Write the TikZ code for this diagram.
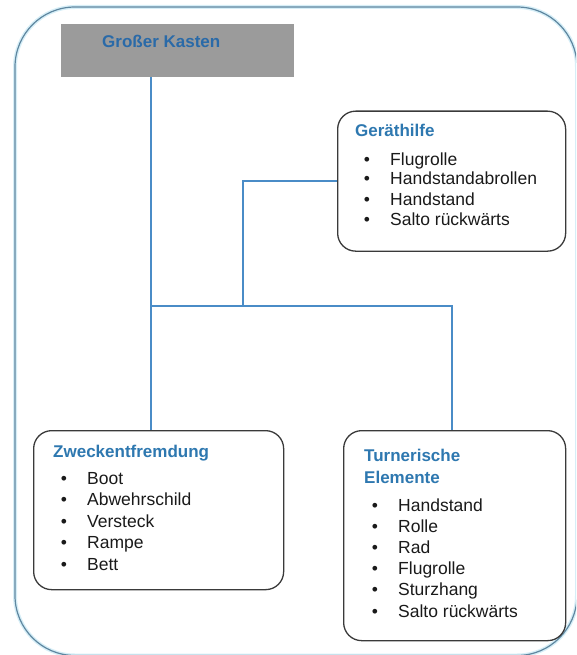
\documentclass[tikz,border=0pt]{standalone}
\usepackage{fontspec}
\setmainfont{Liberation Sans}
\definecolor{boxc}{HTML}{3A3A3A}
\definecolor{connc}{HTML}{4A8CC7}
\definecolor{titlec}{HTML}{2E78B0}
\definecolor{itemc}{HTML}{1A1A1A}
\definecolor{gkfill}{HTML}{9B9B9B}
\definecolor{gktext}{HTML}{2A6AA8}
\definecolor{framec}{HTML}{5F87A0}
\definecolor{haloc}{HTML}{D6EEF7}
\begin{document}
\begin{tikzpicture}[x=1pt,y=-1pt,
  box/.style={draw=boxc, line width=1.3pt, rounded corners=18pt, anchor=north west, inner sep=0pt, fill=white},
  conn/.style={draw=connc, line width=1.4pt},
  ttl/.style={anchor=base west, inner sep=0pt, font=\fontsize{17}{20}\selectfont\bfseries, text=titlec},
  itm/.style={anchor=base west, inner sep=0pt, font=\fontsize{17.5}{21}\selectfont, text=itemc},
  bul/.style={anchor=base, inner sep=0pt, font=\fontsize{17.5}{21}\selectfont, text=itemc}]
\useasboundingbox (0,0) rectangle (576,655);
\begin{scope}
  \clip (0,0) rectangle (576,655);
  \draw[draw=haloc, line width=4pt, rounded corners=60pt] (15,7) rectangle (577,655.5);
  \draw[draw=framec, line width=1.2pt, rounded corners=60pt] (15,7) rectangle (577,655.5);
\end{scope}

% boxes
\node[box, draw=none, rounded corners=0pt, fill=gkfill, minimum width=233pt, minimum height=53pt] (gk) at (60,23) {};
\node[box, minimum width=228pt, minimum height=140pt] (ger) at (337,110.5) {};
\node[box, minimum width=250pt, minimum height=159pt] (zw) at (33,430) {};
\node[box, minimum width=222pt, minimum height=210pt] (tu) at (343,430) {};

% junctions
\coordinate (j1) at (151,306);
\coordinate (j2) at (452,306);
\coordinate (j3) at (243,306);

\draw[conn] (gk.south -| j1) -- (j1) -- (zw.north -| j1);
\draw[conn] (j1) -- (j2) -- (tu.north -| j2);
\draw[conn] (j3) -- (j3 |- ger.west) -- (ger.west);

% texts
\node[ttl, text=gktext] (gkt) at (102,47.3) {Großer Kasten};

\node[ttl] (gert) at (355,137) {Geräthilfe};
\foreach \t [count=\i] in {Flugrolle, Handstandabrollen, Handstand, Salto rückwärts} {
  \node[bul] (gb\i) at (367,{145+20*\i}) {\textbullet};
  \node[itm] (gi\i) at (390,{145+20*\i}) {\t};
}

\node[ttl] (zwt) at (53,457) {Zweckentfremdung};
\foreach \t [count=\i] in {Boot, Abwehrschild, Versteck, Rampe, Bett} {
  \node[bul] (zb\i) at (64,{462.5+21.5*\i}) {\textbullet};
  \node[itm] (zi\i) at (87,{462.5+21.5*\i}) {\t};
}

\node[ttl] (tut1) at (364,461) {Turnerische};
\node[ttl] (tut2) at (364,483.5) {Elemente};
\foreach \t [count=\i] in {Handstand, Rolle, Rad, Flugrolle, Sturzhang, Salto rückwärts} {
  \node[bul] (tb\i) at (375,{490.4+21.1*\i}) {\textbullet};
  \node[itm] (ti\i) at (398,{490.4+21.1*\i}) {\t};
}
\end{tikzpicture}
\end{document}
